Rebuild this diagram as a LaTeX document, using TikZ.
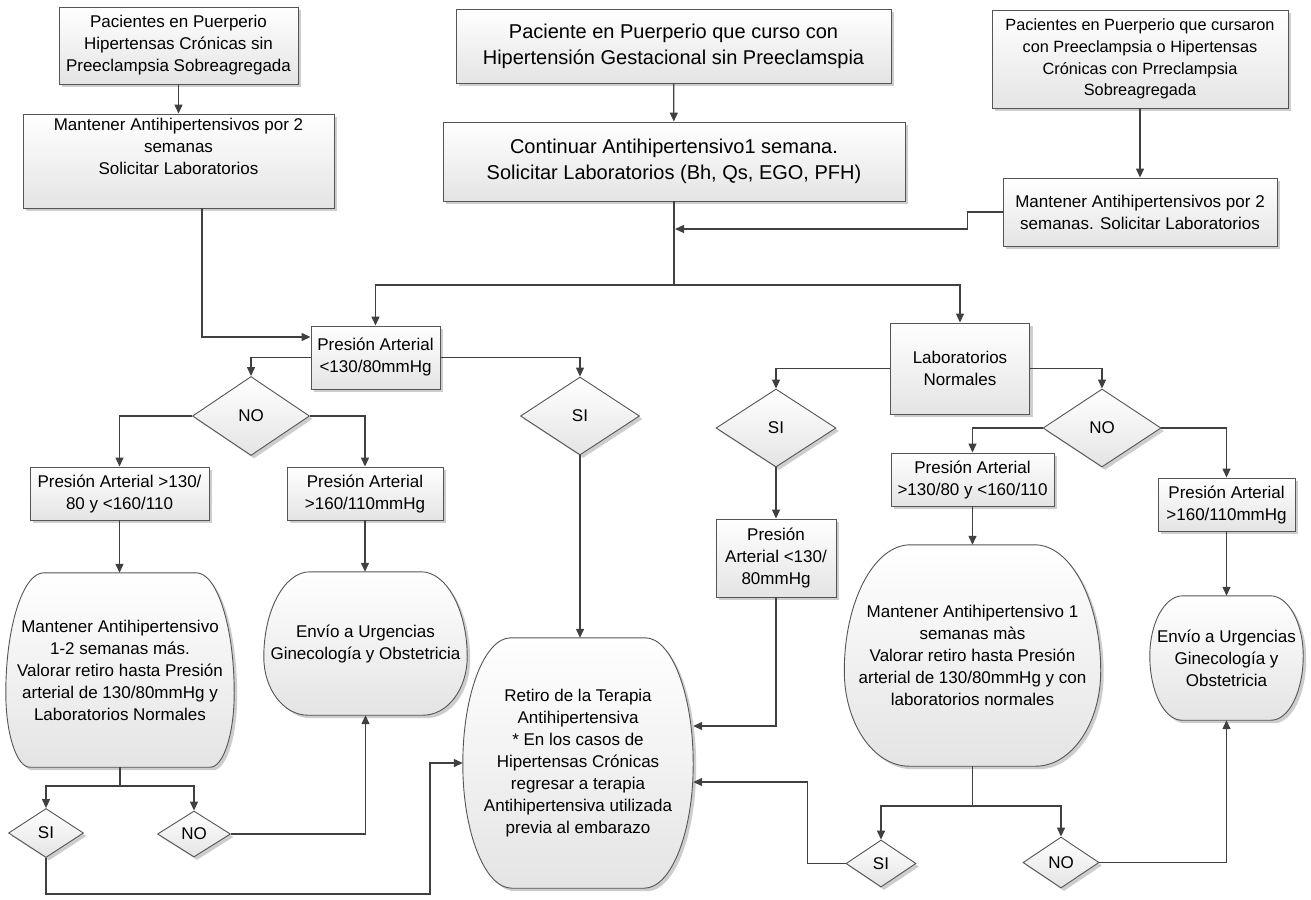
\documentclass[tikz,border=0pt]{standalone}
\usepackage{fontspec}
\setmainfont{Liberation Sans}
\usetikzlibrary{arrows.meta,shapes.geometric,shadows,backgrounds,calc}

\definecolor{lineC}{RGB}{64,64,64}
\definecolor{edgeC}{RGB}{85,85,85}
\definecolor{shadeC}{RGB}{228,228,228}
\definecolor{shadowC}{RGB}{205,205,205}

\tikzset{
  skin/.style={draw=edgeC, line width=0.9pt, top color=white, bottom color=shadeC,
    drop shadow={fill=shadowC, opacity=1, shadow xshift=3pt, shadow yshift=-3pt}},
  base/.style={skin, align=center, inner sep=0pt, font=\fontsize{17}{22}\selectfont},
  box/.style={base, rectangle},
  bigbox/.style={box, font=\fontsize{20}{26}\selectfont},
  smallbox/.style={box, font=\fontsize{16.3}{21.7}\selectfont},
  choice/.style={base, diamond},
  bubble/.style={rectangle, inner sep=0pt, align=center, font=\fontsize{17}{22}\selectfont},
  line/.style={draw=lineC, line width=1.3pt},
  conn/.style={line, -{Triangle[length=9pt,width=8pt]}},
}

% rounded terminal outline drawn around a named text node:
% #1 node, #2/#3 top corner radii (x/y), #4/#5 bottom corner radii (x/y)
\newcommand\bubbleoutline[5]{%
  \path[skin] let \p1=(#1.south west), \p2=(#1.north east) in
    (\x1+#4pt,\y1) -- (\x2-#4pt,\y1)
    .. controls (\x2-0.45*#4pt,\y1) and (\x2,\y1+0.45*#5pt) .. (\x2,\y1+#5pt)
    -- (\x2,\y2-#3pt)
    .. controls (\x2,\y2-0.45*#3pt) and (\x2-0.45*#2pt,\y2) .. (\x2-#2pt,\y2)
    -- (\x1+#2pt,\y2)
    .. controls (\x1+0.45*#2pt,\y2) and (\x1,\y2-0.45*#3pt) .. (\x1,\y2-#3pt)
    -- (\x1,\y1+#5pt)
    .. controls (\x1,\y1+0.45*#5pt) and (\x1+0.45*#4pt,\y1) .. cycle;}

\begin{document}
\begin{tikzpicture}[x=1pt,y=-1pt]
\useasboundingbox (0,0) rectangle (1311,899);

% ---- entry groups ----
\node[box, minimum width=239, minimum height=77] (tl) at (178.5,45.5)
  {Pacientes en Puerperio\\Hipertensas Crónicas sin\\Preeclampsia Sobreagregada};
\node[box, minimum width=311, minimum height=94] (tl2) at (178.5,161)
  {Mantener Antihipertensivos por 2\\semanas\\Solicitar Laboratorios\\ \strut};
\node[bigbox, minimum width=435, minimum height=74] (tc) at (673.5,46)
  {Paciente en Puerperio que curso con\\Hipertensión Gestacional sin Preeclamspia};
\node[bigbox, minimum width=462, minimum height=79] (tc2) at (674,161.5)
  {Continuar Antihipertensivo1 semana.\\Solicitar Laboratorios (Bh, Qs, EGO, PFH)};
\node[smallbox, minimum width=296, minimum height=98] (tr) at (1140,59)
  {Pacientes en Puerperio que cursaron\\con Preeclampsia o Hipertensas\\Crónicas con Prreclampsia\\Sobreagregada};
\node[box, minimum width=274, minimum height=68] (tr2) at (1140,212)
  {Mantener Antihipertensivos por 2\\semanas. Solicitar Laboratorios};

% ---- blood pressure branch ----
\node[box, minimum width=129, minimum height=63] (p1) at (375.5,357.5)
  {Presión Arterial\\<130/80mmHg};
\node[choice, minimum width=117, minimum height=79] (d1) at (251,416) {NO};
\node[choice, minimum width=119, minimum height=78] (d2) at (580,416) {SI};
\node[box, minimum width=179, minimum height=53] (b1) at (119.5,493.5)
  {Presión Arterial >130/\\80 y <160/110};
\node[box, minimum width=156, minimum height=53] (b2) at (365,493.5)
  {Presión Arterial\\>160/110mmHg};
\node[bubble, minimum width=228, minimum height=194] (r1) at (120,670)
  {Mantener Antihipertensivo\\1-2 semanas más.\\Valorar retiro hasta Presión\\arterial de 130/80mmHg y\\Laboratorios Normales};
\node[bubble, minimum width=203, minimum height=143] (e1) at (365.5,643.5)
  {Envío a Urgencias\\Ginecología y Obstetricia};
\node[bubble, minimum width=230, minimum height=250] (rt) at (578,763)
  {Retiro de la Terapia\\Antihipertensiva\\* En los casos de\\Hipertensas Crónicas\\regresar a terapia\\Antihipertensiva utilizada\\previa al embarazo};
\node[choice, minimum width=75, minimum height=49] (d3) at (46,833) {SI};
\node[choice, minimum width=73, minimum height=46] (d4) at (194,834) {NO};

% ---- laboratory branch ----
\node[box, minimum width=139, minimum height=91] (lab) at (960,368.5)
  {Laboratorios\\Normales};
\node[choice, minimum width=120, minimum height=78] (d5) at (776,428) {SI};
\node[choice, minimum width=118, minimum height=78] (d6) at (1102,428) {NO};
\node[box, minimum width=163, minimum height=53] (b3) at (972.5,479.5)
  {Presión Arterial\\>130/80 y <160/110};
\node[box, minimum width=137, minimum height=53] (b4) at (1226.5,504.5)
  {Presión Arterial\\>160/110mmHg};
\node[box, minimum width=120, minimum height=78] (b5) at (776,558)
  {Presión\\Arterial <130/\\80mmHg};
\node[bubble, minimum width=256, minimum height=221] (r2) at (972.5,655.5)
  {Mantener Antihipertensivo 1\\semanas màs\\Valorar retiro hasta Presión\\arterial de 130/80mmHg y con\\laboratorios normales};
\node[bubble, minimum width=153, minimum height=124] (e2) at (1226.5,658)
  {Envío a Urgencias\\Ginecología y\\Obstetricia};
\node[choice, minimum width=70, minimum height=47] (d7) at (881,863.5) {SI};
\node[choice, minimum width=76, minimum height=51] (d8) at (1061,862.5) {NO};

% page background and the rounded terminal outlines, behind their texts
\begin{pgfonlayer}{background}
  \fill[white] (0,0) rectangle (1311,899);
  \bubbleoutline{r1}{38}{120}{24}{74}
  \bubbleoutline{e1}{46}{85}{44}{58}
  \bubbleoutline{rt}{48}{126}{49}{124}
  \bubbleoutline{r2}{66}{126}{65}{95}
  \bubbleoutline{e2}{33}{60}{32}{64}
\end{pgfonlayer}

% junction points
\coordinate (j1) at (674,285);
\coordinate (j2) at (675,229);
\coordinate (j3) at (120,786);
\coordinate (j4) at (972.5,806);

% ---- connectors ----
\draw[conn] (tl) -- (tl2);
\draw[conn] (tc) -- (tc2);
\draw[conn] (tr) -- (tr2);
\draw[conn] ([xshift=23.5pt]tl2.south) |- ([yshift=20.5pt]p1.west);
\draw[line] (tc2.south) -- (j1);
\draw[conn] (j1) -| (p1.north);
\draw[conn] (j1) -| (lab.north);
\draw[conn] (tr2.west) -- ++(-35,0) |- (j2);

\draw[conn] (p1.west) -| (d1.north);
\draw[conn] (p1.east) -| (d2.north);
\draw[conn] (d1.west) -| (b1.north);
\draw[conn] (d1.east) -| (b2.north);
\draw[conn] (b1.south) -- (b1.south |- r1.north);
\draw[conn] (b2.south) -- (b2.south |- e1.north);
\draw[conn] (d2.south) -- (d2.south |- rt.north);
\draw[line] (r1.south) -- (j3);
\draw[conn] (j3) -| (d3.north);
\draw[conn] (j3) -| (d4.north);
\draw[conn] (d4.east) -| (e1.south);
\draw[conn] (d3.south) -- ++(0,36) -- ++(384,0) |- (rt.west);

\draw[conn] (lab.west) -| (d5.north);
\draw[conn] (lab.east) -| (d6.north);
\draw[conn] (d6.west) -| (b3.north);
\draw[conn] (d6.east) -| (b4.north);
\draw[conn] (d5.south) -- (b5.north);
\draw[conn] (b3.south) -- (b3.south |- r2.north);
\draw[conn] (b4.south) -- (b4.south |- e2.north);
\draw[conn] (b5.south) |- ([yshift=37pt]rt.east);
\draw[line] (r2.south) -- (j4);
\draw[conn] (j4) -| (d7.north);
\draw[conn] (j4) -| (d8.north);
\draw[conn] (d7.west) -- ++(-38,0) |- ([yshift=-19pt]rt.east);
\draw[conn] (d8.east) -| (e2.south);
\end{tikzpicture}
\end{document}
